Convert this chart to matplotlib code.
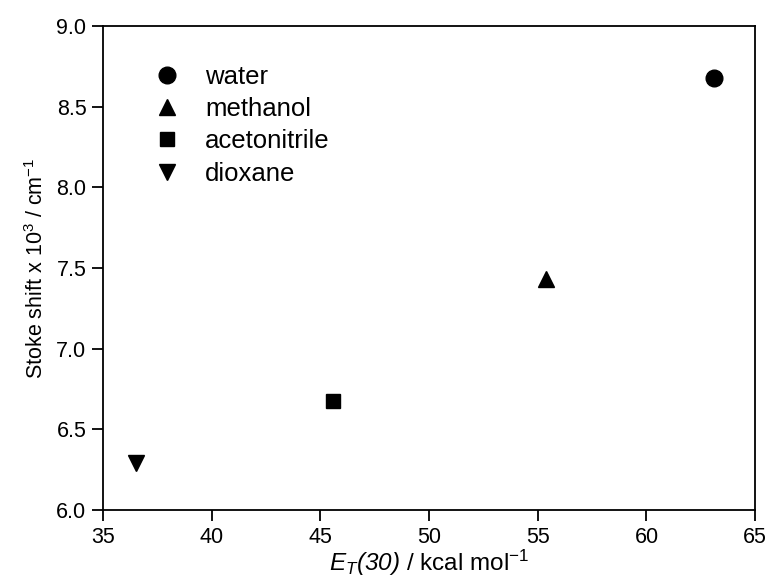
import matplotlib
matplotlib.use("Agg")
import matplotlib.pyplot as plt

plt.rcParams['font.family'] = ['Liberation Sans', 'DejaVu Sans']
plt.rcParams['mathtext.fontset'] = 'custom'
plt.rcParams['mathtext.rm'] = 'Liberation Sans'
plt.rcParams['mathtext.it'] = 'Liberation Sans:italic'
plt.rcParams['mathtext.sf'] = 'Liberation Sans:italic'

# solvent polarity vs Stokes shift
solvents = ['water', 'methanol', 'acetonitrile', 'dioxane']
et30 = [63.1, 55.4, 45.6, 36.5]
stokes = [8.68, 7.43, 6.675, 6.29]
markers = ['o', '^', 's', 'v']
sizes = [12, 12, 10.5, 12]

fig, ax = plt.subplots(figsize=(7.69, 5.81), dpi=100)
fig.subplots_adjust(left=0.134, right=0.982, top=0.955, bottom=0.122)

for name, x, y, m, s in zip(solvents, et30, stokes, markers, sizes):
  ax.plot([x], [y], linestyle='none', marker=m, markersize=s, color='black', label=name)

ax.set_xlim(35, 65)
ax.set_ylim(6.0, 9.0)
ax.set_xticks(range(35, 66, 5))
ax.set_yticks([6.0, 6.5, 7.0, 7.5, 8.0, 8.5, 9.0])
ax.set_yticklabels(['6.0', '6.5', '7.0', '7.5', '8.0', '8.5', '9.0'])
ax.tick_params(direction='out', length=8, width=1.3, labelsize=15.5, pad=4, top=False, right=False)
for sp in ax.spines.values():
  sp.set_linewidth(1.3)

ax.set_xlabel(r'$E_T\mathsf{(30)}$ / kcal mol$^{-1}$', fontsize=17.5, labelpad=0)
ax.set_ylabel(r'Stoke shift x 10$^3$ / cm$^{-1}$', fontsize=15.5, labelpad=6)

ax.legend(loc='upper left', bbox_to_anchor=(0.066, 0.92), frameon=False, fontsize=18.5,
          handletextpad=0.7, handlelength=1.6, labelspacing=0.32, borderaxespad=0, borderpad=0)

plt.savefig('out.png', dpi=100)
